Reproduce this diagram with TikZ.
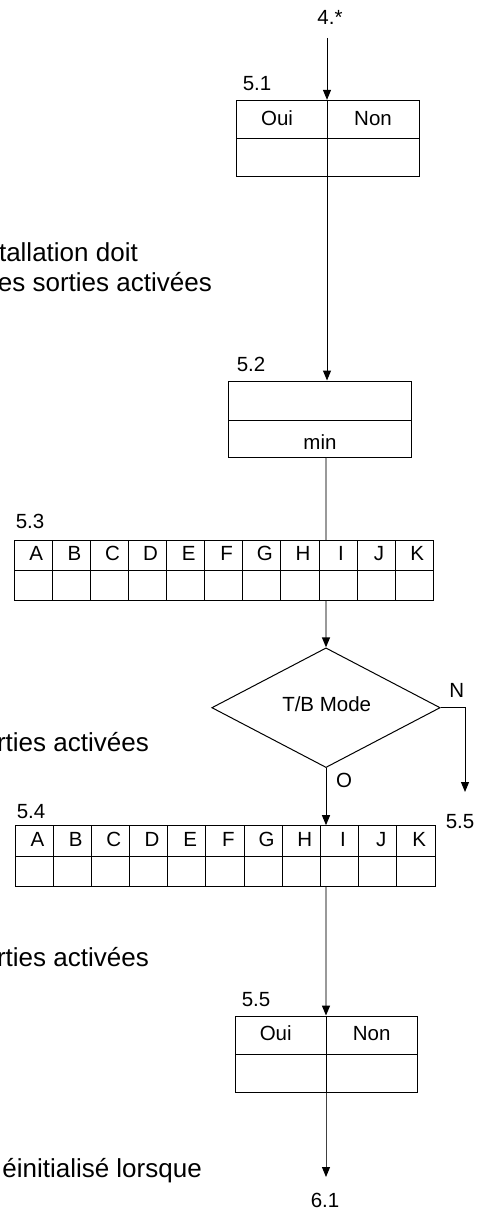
\documentclass[tikz,border=0pt]{standalone}
\usepackage{fontspec}
\setmainfont{Liberation Sans}
\usetikzlibrary{arrows.meta,shapes.geometric}
\begin{document}
\begin{tikzpicture}[x=1pt,y=-1pt,
  frame/.style={draw,line width=1pt,inner sep=0pt},
  lbl/.style={font=\fontsize{20.5}{24}\selectfont,inner sep=0pt,anchor=base},
  side/.style={font=\fontsize{26}{30}\selectfont,inner sep=0pt,anchor=base east},
  arr/.style={line width=1pt,-{Triangle[length=10pt,width=8pt,color=black]}},
  grayline/.style={draw=black!40,line width=1.3pt},
  rule/.style={line width=1pt}]
\useasboundingbox (0,0) rectangle (491,1209);
\clip (0,0) rectangle (491,1209);
\coordinate (spA) at (327,0);
\coordinate (spB) at (326,0);

% left side texts (cut off by the page edge)
\node[side] (s1) at (138,261) {tallation doit};
\node[side] (s2) at (212,291) {es sorties activées};
\node[side] (s3) at (149,751) {rties activées};
\node[side] (s4) at (149,966) {rties activées};
\node[side] (s5) at (202,1177) {éinitialisé lorsque};

% 4.* and 5.1
\node[lbl] (t4) at (330,25) {4.*};
\coordinate (c4) at (327,38);
\node[frame,minimum width=182.6pt,minimum height=75.7pt] (b51) at (328,138.2) {};
\draw[rule] (236.7,139) -- (419.3,139);
\draw[rule] (327,100.3) -- (327,176);
\node[lbl] (l51) at (257,91) {5.1};
\node[lbl] (b51o) at (277,126) {Oui};
\node[lbl] (b51n) at (373,126) {Non};
\draw[arr] (c4) -- (b51.north -| spA);

% 5.2
\node[frame,minimum width=182.7pt,minimum height=76pt] (b52) at (320.3,419) {};
\draw[rule] (229,420) -- (411.7,420);
\node[lbl] (l52) at (251,371) {5.2};
\node[lbl] (b52m) at (320,449) {min};
\draw[arr] (b51.south -| spA) -- (b52.north -| spA);

% 5.3
\node[frame,minimum width=419pt,minimum height=60pt] (t53) at (223.8,570) {};
\draw[rule] (14.3,570.3) -- (433.3,570.3);
\foreach \i in {1,...,10} \draw[rule] ({14.3+38.09*\i},540) -- ++(0,60);
\foreach \L [count=\i from 0] in {A,B,C,D,E,F,G,H,I,J,K}
  \node[lbl] (t53\L) at ({14.3+38.09*\i+22},560) {\L};
\node[lbl] (l53) at (30,528) {5.3};
\draw[grayline] (b52.south -| spB) -- (t53.north -| spB);

% decision
\node[diamond,draw,line width=1pt,inner sep=0pt,minimum width=228.4pt,minimum height=119.7pt] (dm) at (326,707.7) {};
\node[lbl] (dmt) at (326.7,711) {T/B Mode};
\draw[arr,draw=black!40,line width=1.3pt] (t53.south -| dm.north) -- (dm.north);
\node[lbl] (dn) at (456.7,697) {N};
\node[lbl] (do) at (344,787) {O};
\coordinate (nb) at (465,707.7);
\coordinate (ne) at (465,792);
\draw[arr] (dm.east) -- (nb) -- (ne);
\node[lbl] (l55r) at (460,828) {5.5};

% 5.4
\node[frame,minimum width=420pt,minimum height=61pt] (t54) at (225,856.2) {};
\draw[rule] (15,856) -- (435,856);
\foreach \i in {1,...,10} \draw[rule] ({15+38.18*\i},825.7) -- ++(0,61);
\foreach \L [count=\i from 0] in {A,B,C,D,E,F,G,H,I,J,K}
  \node[lbl] (t54\L) at ({15+38.18*\i+22.5},846) {\L};
\node[lbl] (l54) at (31,818) {5.4};
\draw[arr] (dm.south) -- (dm.south |- t54.north);

% 5.5
\node[frame,minimum width=182pt,minimum height=76.3pt] (b55) at (326.3,1054.2) {};
\draw[rule] (235.3,1054.3) -- (417.3,1054.3);
\draw[rule] (326.3,1016) -- (326.3,1092.3);
\node[lbl] (l55) at (256,1006) {5.5};
\node[lbl] (b55o) at (275.7,1040) {Oui};
\node[lbl] (b55n) at (371.7,1040) {Non};
\draw[arr,draw=black!40,line width=1.3pt] (t54.south -| spB) -- (b55.north -| spB);

% 6.1
\coordinate (e61) at (326,1177);
\draw[arr,draw=black!75] (b55.south -| spB) -- (e61);
\node[lbl] (l61) at (325,1207) {6.1};
\end{tikzpicture}
\end{document}
